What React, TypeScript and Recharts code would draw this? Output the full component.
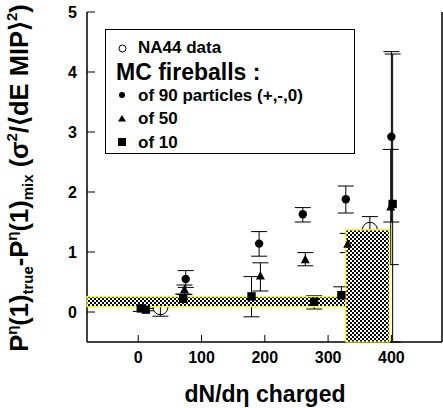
import React from 'react';
import { ComposedChart, Scatter, XAxis, YAxis, ErrorBar, ReferenceArea, Legend } from 'recharts';

// ---- data ----
const xTicks = [0, 100, 200, 300, 400];
const yTicks = [0, 1, 2, 3, 4, 5];
const xDomain = [-81, 480];
const yDomain = [-0.5, 5];

// MC fireballs of 90 particles (+,-,0)
const p90X = [75, 191, 260, 328, 400];
const p90Y = [0.55, 1.14, 1.63, 1.88, 2.92];
const p90Err = [[0.14, 0.14], [0.21, 0.2], [0.13, 0.11], [0.23, 0.22], [1.42, 1.42]];

// MC fireballs of 50
const p50X = [73, 193, 264, 331, 399];
const p50Y = [0.37, 0.6, 0.87, 1.13, 1.75];
const p50Err = [[0.08, 0.08], [0.25, 0.22], [0.1, 0.12], [0.14, 0.18], [0.96, 0.96]];

// MC fireballs of 10
const p10X = [4, 12, 71, 179, 278, 321, 402];
const p10Y = [0.06, 0.04, 0.22, 0.26, 0.17, 0.28, 1.8];
const p10Err = [[0.05, 0.03], [0.02, 0.02], [0.08, 0.08], [0.34, 0.33], [0.12, 0.1], [0.11, 0.14], [2.3, 2.5]];

// NA44 data
const naX = [35, 366];
const naY = [0.08, 1.37];
const naErr = [[0.15, 0.15], [0.28, 0.22]];

// shaded systematic regions
const bandX = [-81, 328];
const bandY = [0.09, 0.255];
const boxX = [328, 397];
const boxY = [-0.5, 1.37];

const build = (xs: number[], ys: number[], es: number[][]) =>
  xs.map((x, i) => ({ x, y: ys[i], err: es[i] }));

const d90 = build(p90X, p90Y, p90Err);
const d50 = build(p50X, p50Y, p50Err);
const d10 = build(p10X, p10Y, p10Err);
const dNA = build(naX, naY, naErr);

const FONT = '"Liberation Sans", Arial, Helvetica, sans-serif';

const CircleShape = (p: any) => <circle cx={p.cx} cy={p.cy} r={4.2} fill="#000" />;
const OpenCircleShape = (p: any) => <circle cx={p.cx} cy={p.cy} r={7.5} fill="none" stroke="#000" strokeWidth={1} />;
const TriShape = (p: any) => (
  <polygon points={`${p.cx},${p.cy - 5} ${p.cx - 4.5},${p.cy + 3.5} ${p.cx + 4.5},${p.cy + 3.5}`} fill="#000" />
);
const SquareShape = (p: any) => <rect x={p.cx - 4.2} y={p.cy - 4.2} width={8.4} height={8.4} fill="#000" />;

const LegendBox = () => (
  <svg width={250} height={125} style={{ display: 'block' }}>
    <rect x={0.5} y={0.5} width={249} height={124} fill="#fff" stroke="#000" strokeWidth={1} />
    <g fontFamily={FONT} fontWeight="bold" fill="#000">
      <circle cx={17.5} cy={19.5} r={3.5} fill="none" stroke="#000" strokeWidth={1} />
      <text x={33} y={24} fontSize={17}>NA44 data</text>
      <text x={11} y={51} fontSize={23}>MC fireballs :</text>
      <circle cx={17} cy={66} r={3} fill="#000" />
      <text x={33} y={72} fontSize={17}>of 90 particles (+,-,0)</text>
      <polygon points="17,86 13,92.5 21,92.5" fill="#000" />
      <text x={33} y={95} fontSize={17}>of 50</text>
      <rect x={13} y={109} width={8} height={8} fill="#000" />
      <text x={33} y={119} fontSize={17}>of 10</text>
    </g>
  </svg>
);

const YLabel = () => (
  <text
    transform="rotate(-90)"
    x={-178}
    y={28}
    textAnchor="middle"
    fontFamily={FONT}
    fontWeight="bold"
    fontSize={25.5}
    fill="#000"
  >
    <tspan>P</tspan>
    <tspan fontSize={15} dy={-11}>η</tspan>
    <tspan dy={11}>(1)</tspan>
    <tspan fontSize={15} dy={5}>true</tspan>
    <tspan dy={-5}>-P</tspan>
    <tspan fontSize={15} dy={-11}>η</tspan>
    <tspan dy={11}>(1)</tspan>
    <tspan fontSize={15} dy={5}>mix</tspan>
    <tspan dy={-5}> (σ</tspan>
    <tspan fontSize={15} dy={-11}>2</tspan>
    <tspan dy={11}>/⟨dE MIP⟩</tspan>
    <tspan fontSize={15} dy={-11}>2</tspan>
    <tspan dy={11}>)</tspan>
  </text>
);

const XLabel = () => (
  <text x={265} y={402} textAnchor="middle" fontFamily={FONT} fontWeight="bold" fontSize={23} fill="#000">
    dN/dη charged
  </text>
);

const tickStyle = { fontFamily: FONT, fontWeight: 'bold', fontSize: 16, fill: '#000' } as any;
const axisLine = { stroke: '#000', strokeWidth: 1.5 };
const tickLine = { stroke: '#000', strokeWidth: 1 };

export default function App() {
  return (
    <div style={{ position: 'absolute', left: 0, top: 0, width: 443, height: 408, background: '#fff' }}>
      <svg width={0} height={0} style={{ position: 'absolute' }}>
        <defs>
          <pattern id="chk" x={0} y={0} width={4} height={4} patternUnits="userSpaceOnUse">
            <rect x={0} y={0} width={4} height={4} fill="#fff" shapeRendering="crispEdges" />
            <rect x={0} y={0} width={2} height={2} fill="#000" shapeRendering="crispEdges" />
            <rect x={2} y={2} width={2} height={2} fill="#000" shapeRendering="crispEdges" />
          </pattern>
        </defs>
      </svg>
      <ComposedChart width={443} height={408} margin={{ top: 12, right: 0, bottom: 0, left: 0 }}>
        <XAxis
          xAxisId={0}
          type="number"
          dataKey="x"
          domain={xDomain}
          ticks={xTicks}
          allowDataOverflow
          height={66}
          tickSize={-7}
          tickMargin={17}
          tick={tickStyle}
          axisLine={axisLine}
          tickLine={tickLine}
          label={<XLabel />}
        />
        <XAxis
          xAxisId="top"
          orientation="top"
          type="number"
          domain={xDomain}
          ticks={xTicks}
          allowDataOverflow
          height={0}
          tickSize={-7}
          tick={false}
          axisLine={axisLine}
          tickLine={tickLine}
        />
        <YAxis
          yAxisId={0}
          type="number"
          dataKey="y"
          domain={yDomain}
          ticks={yTicks}
          allowDataOverflow
          width={87}
          tickSize={-8}
          tickMargin={18}
          tick={tickStyle}
          axisLine={axisLine}
          tickLine={tickLine}
          label={<YLabel />}
        />
        <YAxis
          yAxisId="right"
          orientation="right"
          type="number"
          domain={yDomain}
          ticks={yTicks}
          allowDataOverflow
          width={1}
          tickSize={-7}
          tick={false}
          axisLine={axisLine}
          tickLine={tickLine}
        />
        <Scatter name="NA44 data" data={dNA} dataKey="y" shape={OpenCircleShape} isAnimationActive={false} zIndex={450}>
          <ErrorBar dataKey="err" direction="y" width={8} stroke="#000" strokeWidth={1} isAnimationActive={false} zIndex={450} />
        </Scatter>
        <ReferenceArea x1={bandX[0]} x2={bandX[1]} y1={bandY[0]} y2={bandY[1]} fill="url(#chk)" fillOpacity={1} stroke="#ffff00" strokeWidth={1.2} ifOverflow="extendDomain" zIndex={500} />
        <ReferenceArea x1={boxX[0]} x2={boxX[1]} y1={boxY[0]} y2={boxY[1]} fill="url(#chk)" fillOpacity={1} stroke="#ffff00" strokeWidth={1.2} ifOverflow="extendDomain" zIndex={500} />
        <Scatter name="of 10" data={d10} dataKey="y" shape={SquareShape} isAnimationActive={false} zIndex={600}>
          <ErrorBar dataKey="err" direction="y" width={8} stroke="#000" strokeWidth={1} isAnimationActive={false} />
        </Scatter>
        <Scatter name="of 50" data={d50} dataKey="y" shape={TriShape} isAnimationActive={false} zIndex={600}>
          <ErrorBar dataKey="err" direction="y" width={8} stroke="#000" strokeWidth={1} isAnimationActive={false} />
        </Scatter>
        <Scatter name="of 90 particles (+,-,0)" data={d90} dataKey="y" shape={CircleShape} isAnimationActive={false} zIndex={600}>
          <ErrorBar dataKey="err" direction="y" width={8} stroke="#000" strokeWidth={1} isAnimationActive={false} />
        </Scatter>
        <Legend
          layout="vertical"
          align="center"
          verticalAlign="middle"
          content={() => <LegendBox />}
          wrapperStyle={{ position: 'absolute', left: 105, top: 29, width: 250, height: 125 }}
        />
      </ComposedChart>
    </div>
  );
}
